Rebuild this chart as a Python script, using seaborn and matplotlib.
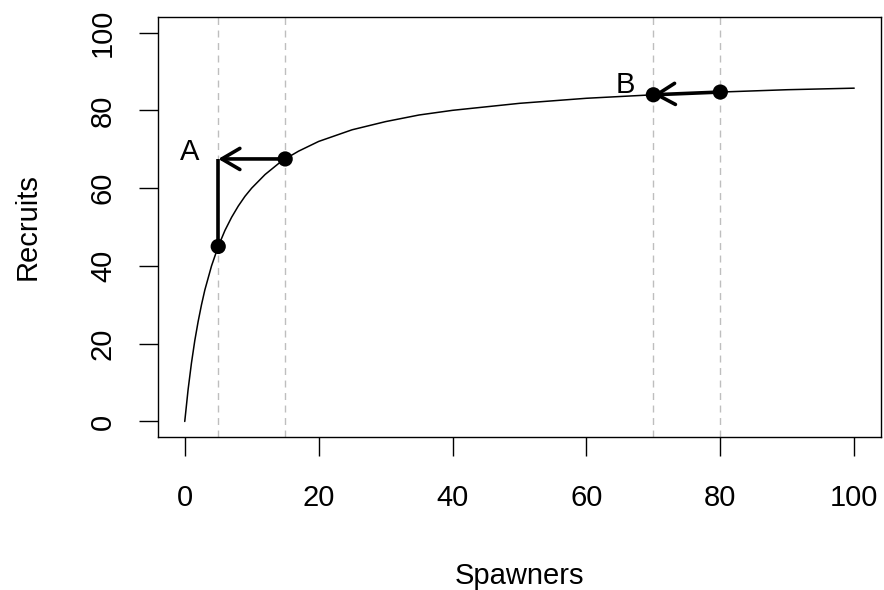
import pandas as pd
import matplotlib
matplotlib.use("Agg")
import matplotlib.pyplot as plt
import seaborn as sns

# curve values
spawners = [0, 0.5, 1, 1.5, 2, 2.5, 3, 4, 5, 6, 7, 8, 9, 10, 12, 14, 15, 17, 20, 25, 30, 35,
            40, 50, 60, 70, 80, 90, 100]
recruits = [0, 8.2, 15.0, 20.8, 25.7, 30.0, 33.8, 40.0, 45.0, 49.1, 52.5, 55.4, 57.9, 60.0,
            63.5, 66.3, 67.5, 69.5, 72.0, 75.0, 77.1, 78.8, 80.0, 81.8, 83.1, 84.0, 84.7,
            85.3, 85.7]

# highlighted points and their guide lines
pt_x = [5, 15, 70, 80]
pt_y = [45.0, 67.5, 84.0, 84.7]
labels = ["A", "B"]
label_x = [0.8, 65.8]
label_y = [69.4, 86.6]

curve = pd.DataFrame({"Spawners": spawners, "Recruits": recruits})
pts = pd.DataFrame({"Spawners": pt_x, "Recruits": pt_y})

sns.set_theme(style="white")
plt.rcParams["font.family"] = ["Liberation Sans", "DejaVu Sans"]
plt.rcParams["text.color"] = "black"
plt.rcParams["axes.labelcolor"] = "black"
plt.rcParams["xtick.color"] = "black"
plt.rcParams["ytick.color"] = "black"

fs = 21

fig = plt.figure(figsize=(8.84, 5.9), dpi=100)
ax = fig.add_axes([0.1787, 0.2593, 0.8179, 0.7119])

for x in pt_x:
    ax.axvline(x, color="#bebebe", lw=1.0, ls=(0, (5, 4)), zorder=1)

sns.lineplot(data=curve, x="Spawners", y="Recruits", color="black", lw=1.1, ax=ax, zorder=2)

# vertical jump at A, then the arrows
ax.plot([pt_x[0], pt_x[0]], [pt_y[0], pt_y[1]], color="black", lw=2.6, solid_capstyle="butt", zorder=3)
arrow_style = dict(arrowstyle="->,head_length=0.65,head_width=0.38", color="black",
                   lw=2.6, mutation_scale=20, shrinkA=0, shrinkB=0)
ax.annotate("", xy=(pt_x[0], pt_y[1]), xytext=(pt_x[1], pt_y[1]), arrowprops=arrow_style, zorder=3)
ax.annotate("", xy=(pt_x[2], pt_y[2]), xytext=(pt_x[3], pt_y[3]), arrowprops=arrow_style, zorder=3)

sns.scatterplot(data=pts, x="Spawners", y="Recruits", color="black", s=120, edgecolor="none",
                ax=ax, zorder=4)

for t, x, y in zip(labels, label_x, label_y):
    ax.text(x, y, t, fontsize=fs, ha="center", va="center", color="black")

ax.set_xlim(-4, 104)
ax.set_ylim(-4, 104)
ax.set_xticks([0, 20, 40, 60, 80, 100])
ax.set_yticks([0, 20, 40, 60, 80, 100])
for sp in ax.spines.values():
    sp.set_color("black")
    sp.set_linewidth(1.0)
ax.tick_params(axis="x", direction="out", length=13.5, width=1.0, labelsize=fs, pad=20, bottom=True)
ax.tick_params(axis="y", direction="out", length=13.5, width=1.0, labelsize=fs, pad=16, left=True)
plt.setp(ax.get_yticklabels(), rotation=90, va="center")
ax.set_xlabel("Spawners", fontsize=fs, labelpad=36)
ax.set_ylabel("Recruits", fontsize=fs, labelpad=34)

fig.savefig("out.png", dpi=100)
